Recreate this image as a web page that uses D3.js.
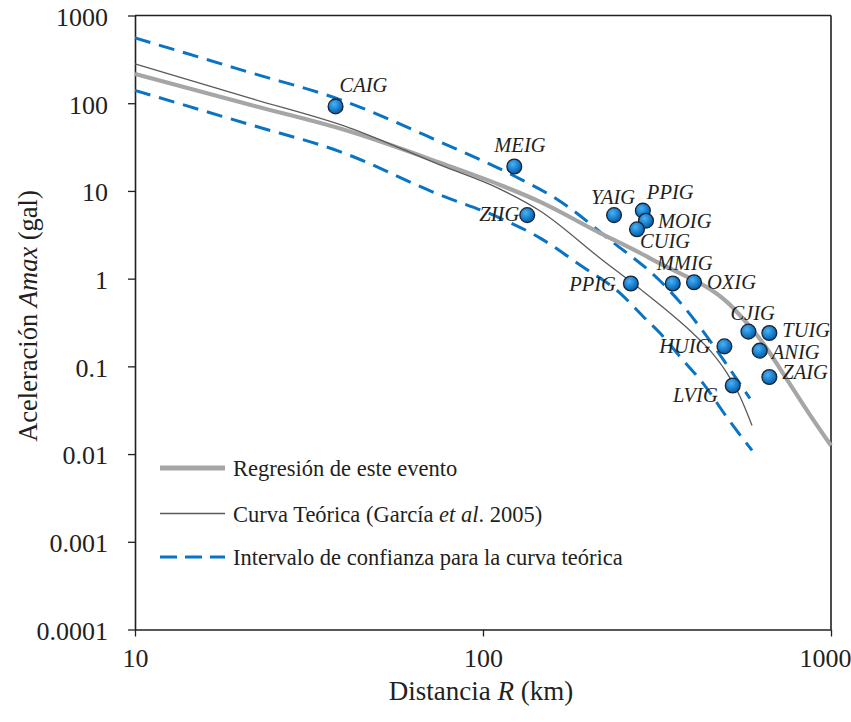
<!DOCTYPE html>
<html>
<head>
<meta charset="utf-8">
<script src="https://cdn.jsdelivr.net/npm/d3@7/dist/d3.min.js"></script>
<style>
  html, body { margin: 0; padding: 0; background: #fff; }
  svg { display: block; }
  text { font-family: "Liberation Serif", "Times New Roman", serif; fill: #231f20; }
</style>
</head>
<body>
<svg id="chart" width="851" height="722"></svg>
<script>
// ---------------- data ----------------
const xTickValues = [10, 100, 1000];
const xTickLabels = ["10", "100", "1000"];
const yTickValues = [0.0001, 0.001, 0.01, 0.1, 1, 10, 100, 1000];
const yTickLabels = ["0.0001", "0.001", "0.01", "0.1", "1", "10", "100", "1000"];

// Regresión de este evento
const regR = [10, 21.4, 41.5, 75.2, 112, 146, 217, 283, 323, 404, 449, 503, 559, 613, 668, 728, 799, 870, 1000];
const regA = [216, 96, 47.6, 21, 11.7, 7.5, 3.31, 1.96, 1.48, 0.96, 0.76, 0.54, 0.349, 0.226, 0.141, 0.083, 0.047, 0.028, 0.0125];

// Curva Teórica (García et al. 2005)
const teoR = [10, 21.4, 41.5, 75.2, 112, 146, 217, 283, 323, 401, 449, 503, 548, 593];
const teoA = [280, 114, 52.1, 19.8, 10.5, 5.9, 1.71, 0.76, 0.50, 0.238, 0.152, 0.083, 0.045, 0.0212];

// Intervalo de confianza (superior / inferior)
const supR = [10, 21.4, 38.8, 75.2, 123, 166, 232, 323, 368, 429, 503, 585];
const supA = [556, 224, 110, 36.3, 14.8, 7.7, 2.75, 0.94, 0.54, 0.251, 0.103, 0.043];
const infR = [10, 21.4, 38.8, 75.2, 112, 146, 190, 248, 288, 323, 376, 429, 503, 593];
const infA = [140, 57, 28.1, 9.0, 4.9, 2.9, 1.43, 0.68, 0.373, 0.238, 0.117, 0.064, 0.026, 0.011];

// Estaciones
const stationNames = ["CAIG", "MEIG", "ZIIG", "YAIG", "PPIG", "MOIG", "CUIG", "PPIG", "MMIG", "OXIG", "CJIG", "TUIG", "HUIG", "ANIG", "ZAIG", "LVIG"];
const stationR = [37.7, 123, 134, 238, 288, 294, 277, 266, 351, 404, 579, 665, 494, 624, 665, 522];
const stationA = [92, 19, 5.3, 5.3, 5.96, 4.58, 3.65, 0.88, 0.88, 0.91, 0.249, 0.24, 0.169, 0.151, 0.0755, 0.0606];

const legendLabels = ["Regresión de este evento", "Curva Teórica (García ", "Intervalo de confianza para la curva teórica"];

// ---------------- layout ----------------
// label placement (dx, dy from point, anchor)
const labelPlacement = [
  [4, -14, "start"], [-20, -14, "start"], [-8, 6, "end"], [-23, -11, "start"],
  [4, -12, "start"], [12, 7, "start"], [3, 19, "start"], [-15, 7, "end"],
  [-16, -14, "start"], [13, 7, "start"], [-18, -12, "start"], [13, 4, "start"],
  [-14, 7, "end"], [12, 8, "start"], [13, 2, "start"], [-15, 17, "end"]
];

const svg = d3.select("#chart");
const pLeft = 135, pRight = 831, pTop = 15.5, pBottom = 629.5;

const x = d3.scaleLog().domain([10, 1000]).range([pLeft, pRight]);
const y = d3.scaleLog().domain([0.0001, 1000]).range([pBottom, pTop]);

const axisColor = "#231f20";

// frame (top, right)
svg.append("line").attr("x1", pLeft).attr("x2", pRight).attr("y1", pTop).attr("y2", pTop)
  .attr("stroke", axisColor).attr("stroke-width", 1.6);
svg.append("line").attr("x1", pRight).attr("x2", pRight).attr("y1", pTop).attr("y2", pBottom)
  .attr("stroke", axisColor).attr("stroke-width", 1.6);

// axes
const yAxis = d3.axisLeft(y).tickValues(yTickValues)
  .tickFormat((d, i) => yTickLabels[i]).tickSizeInner(7).tickSizeOuter(0).tickPadding(20);
const gy = svg.append("g").attr("transform", `translate(${pLeft},0)`).call(yAxis);
const xAxis = d3.axisBottom(x).tickValues(xTickValues)
  .tickFormat((d, i) => xTickLabels[i]).tickSizeInner(7).tickSizeOuter(0).tickPadding(12);
const gx = svg.append("g").attr("transform", `translate(0,${pBottom})`).call(xAxis);

[gx, gy].forEach(g => {
  g.select(".domain").attr("stroke", axisColor).attr("stroke-width", 1.6);
  g.selectAll(".tick line").attr("stroke", axisColor).attr("stroke-width", 1.3);
  g.selectAll(".tick text").attr("font-family", "Liberation Serif").attr("font-size", 26).attr("fill", axisColor);
});
gx.selectAll(".tick text").attr("dy", "0.72em")
  .attr("dx", (d, i) => (i === xTickValues.length - 1 ? -6 : 0));
gy.selectAll(".tick text").attr("dy", "0.38em");

// axis titles
const xt = svg.append("text").attr("x", (pLeft + pRight) / 2 - 2).attr("y", 700)
  .attr("text-anchor", "middle").attr("font-size", 27);
xt.append("tspan").text("Distancia ");
xt.append("tspan").attr("font-style", "italic").text("R");
xt.append("tspan").text(" (km)");

const yt = svg.append("text").attr("transform", `translate(37,316) rotate(-90)`)
  .attr("text-anchor", "middle").attr("font-size", 26.5);
yt.append("tspan").text("Aceleración ");
yt.append("tspan").attr("font-style", "italic").text("Amax");
yt.append("tspan").text(" (gal)");

// curves
const lineGen = d3.line().x(d => x(d[0])).y(d => y(d[1])).curve(d3.curveMonotoneX);
const zip = (a, b) => a.map((v, i) => [v, b[i]]);

svg.append("path").datum(zip(supR, supA)).attr("d", lineGen)
  .attr("fill", "none").attr("stroke", "#0a74c4").attr("stroke-width", 3).attr("stroke-dasharray", "16,9");
svg.append("path").datum(zip(infR, infA)).attr("d", lineGen)
  .attr("fill", "none").attr("stroke", "#0a74c4").attr("stroke-width", 3).attr("stroke-dasharray", "16,9");
svg.append("path").datum(zip(regR, regA)).attr("d", lineGen)
  .attr("fill", "none").attr("stroke", "#a6a6a6").attr("stroke-width", 4.2);
svg.append("path").datum(zip(teoR, teoA)).attr("d", lineGen)
  .attr("fill", "none").attr("stroke", "#5a5a5a").attr("stroke-width", 1.3);

// gradient for stations
const defs = svg.append("defs");
const grad = defs.append("radialGradient").attr("id", "ball").attr("cx", "40%").attr("cy", "35%").attr("r", "65%");
grad.append("stop").attr("offset", "0%").attr("stop-color", "#4fb0f0");
grad.append("stop").attr("offset", "55%").attr("stop-color", "#1a84d4");
grad.append("stop").attr("offset", "100%").attr("stop-color", "#0b5aa0");

const stations = stationNames.map((n, i) => ({ name: n, r: stationR[i], a: stationA[i], i }));

svg.append("g").selectAll("circle").data(stations).join("circle")
  .attr("cx", d => x(d.r)).attr("cy", d => y(d.a)).attr("r", 7.4)
  .attr("fill", "url(#ball)").attr("stroke", "#1b2330").attr("stroke-width", 1.3);

svg.append("g").selectAll("text").data(stations).join("text")
  .attr("x", d => x(d.r) + labelPlacement[d.i][0])
  .attr("y", d => y(d.a) + labelPlacement[d.i][1])
  .attr("text-anchor", d => labelPlacement[d.i][2])
  .attr("font-size", 20.5).attr("font-style", "italic")
  .text(d => d.name);

// legend
const lg = svg.append("g");
const lx1 = 160, lx2 = 225, tx = 233;
lg.append("line").attr("x1", lx1).attr("x2", lx2).attr("y1", 468).attr("y2", 468)
  .attr("stroke", "#a6a6a6").attr("stroke-width", 5);
lg.append("text").attr("x", tx).attr("y", 476).attr("font-size", 22.5).text(legendLabels[0]);

lg.append("line").attr("x1", lx1).attr("x2", lx2).attr("y1", 513.5).attr("y2", 513.5)
  .attr("stroke", "#5a5a5a").attr("stroke-width", 1.5);
const t2 = lg.append("text").attr("x", tx).attr("y", 522).attr("font-size", 22.5);
t2.append("tspan").text(legendLabels[1]);
t2.append("tspan").attr("font-style", "italic").text("et al");
t2.append("tspan").text(". 2005)");

lg.append("line").attr("x1", lx1).attr("x2", lx2).attr("y1", 557).attr("y2", 557)
  .attr("stroke", "#0a74c4").attr("stroke-width", 3).attr("stroke-dasharray", "17,8");
lg.append("text").attr("x", tx).attr("y", 565).attr("font-size", 22.5).text(legendLabels[2]);
</script>
</body>
</html>
